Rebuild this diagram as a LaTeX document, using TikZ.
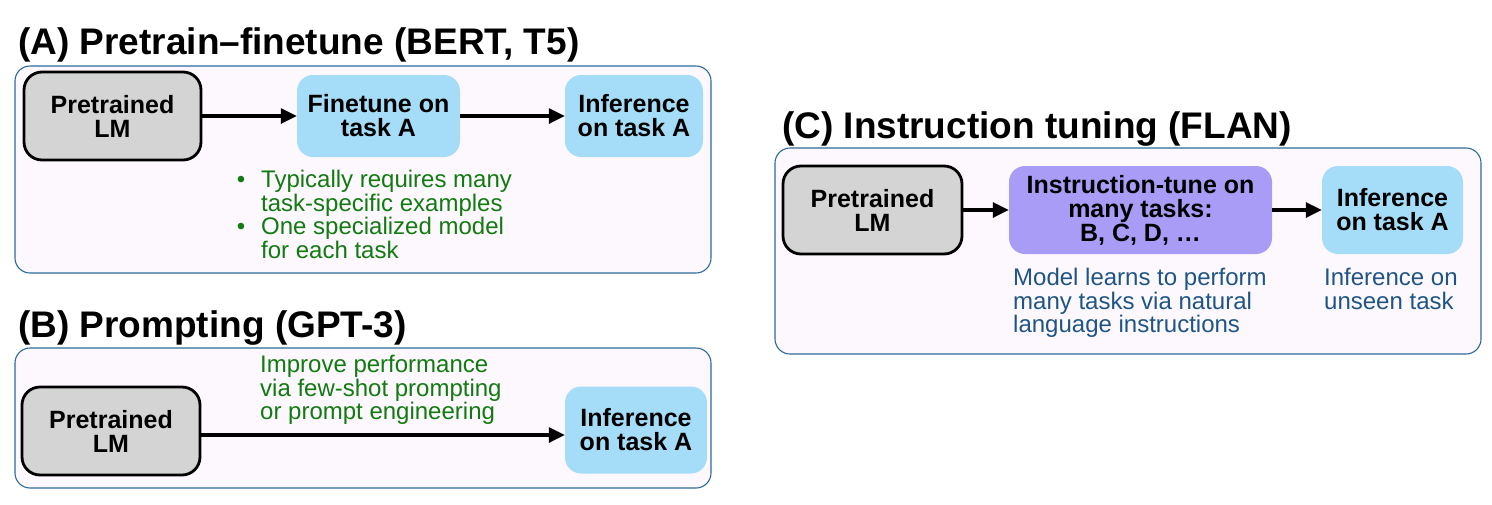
\documentclass[tikz,border=0pt]{standalone}
\usepackage{fontspec}
\setmainfont{Liberation Sans}
\newfontfamily\titlefont{Liberation Sans Bold}
\newfontfamily\boxfont{Liberation Sans Bold}
\usetikzlibrary{arrows.meta}
\definecolor{panelbg}{HTML}{FDF8FD}
\definecolor{panelline}{HTML}{2C6A99}
\definecolor{lmgray}{HTML}{D4D4D4}
\definecolor{taskblue}{HTML}{A5DDF9}
\definecolor{tunepurple}{HTML}{A99CF7}
\definecolor{notegreen}{HTML}{117A11}
\definecolor{noteblue}{HTML}{1F5585}
\begin{document}
\begin{tikzpicture}[x=1pt,y=-1pt,
  panel/.style={draw=panelline,line width=1.1pt,fill=panelbg,rounded corners=15pt},
  lmbox/.style={draw=black,line width=2.8pt,fill=lmgray,rounded corners=18pt,align=center,font=\boxfont\fontsize{25}{24}\selectfont,inner sep=0pt},
  taskbox/.style={fill=taskblue,rounded corners=16pt,align=center,font=\boxfont\fontsize{25}{24}\selectfont,inner sep=0pt},
  tunebox/.style={fill=tunepurple,rounded corners=16pt,align=center,font=\boxfont\fontsize{25}{24}\selectfont,inner sep=0pt},
  title/.style={anchor=base west,font=\titlefont\fontsize{37}{37}\selectfont,inner sep=0pt},
  note/.style={anchor=north west,align=left,inner sep=0pt,font=\fontsize{24}{23.5}\selectfont},
  dot/.style={inner sep=0pt,font=\fontsize{24}{24}\selectfont},
  flow/.style={line width=3.2pt,-{Triangle[length=16pt,width=15pt]}}
]
\useasboundingbox (0,0) rectangle (1492,504);
% ---------- (A)
\node[title] (tA) at (18,54) {(A) Pretrain–finetune (BERT, T5)};
\draw[panel] (15,66) rectangle (711,273);
\node[lmbox,minimum width=177pt,minimum height=88pt] (preA) at (112.5,116) {Pretrained\\LM};
\node[taskbox,minimum width=163pt,minimum height=82pt] (ftA) at (378.5,116) {Finetune on\\task A};
\node[taskbox,minimum width=138pt,minimum height=82pt] (infA) at (634,116) {Inference\\on task A};
\draw[flow] (preA.east) -- (ftA.west);
\draw[flow] (ftA.east) -- (infA.west);
\node[dot,text=notegreen] (bA1) at (241,182) {\textbullet};
\node[note,text=notegreen] (nA1) at (261,170) {Typically requires many\\task-specific examples};
\node[dot,text=notegreen] (bA2) at (241,229) {\textbullet};
\node[note,text=notegreen] (nA2) at (261,217) {One specialized model\\for each task};
% ---------- (B)
\node[title] (tB) at (18,337) {(B) Prompting (GPT-3)};
\draw[panel] (15,348) rectangle (711,488);
\node[lmbox,minimum width=178pt,minimum height=88pt] (preB) at (111,431) {Pretrained\\LM};
\node[taskbox,minimum width=142pt,minimum height=87pt] (infB) at (636,430) {Inference\\on task A};
\draw[flow] ([yshift=-4pt]preB.east) -- ([yshift=-5pt]infB.west);
\node[note,text=notegreen] (nB) at (260,355) {Improve performance\\via few-shot prompting\\or prompt engineering};
% ---------- (C)
\node[title] (tC) at (782,138) {(C) Instruction tuning (FLAN)};
\draw[panel] (775,148) rectangle (1481,354);
\node[lmbox,minimum width=179pt,minimum height=88pt] (preC) at (872.5,210) {Pretrained\\LM};
\node[tunebox,minimum width=263pt,minimum height=88pt] (tuneC) at (1140.5,210) {Instruction-tune on\\many tasks:\\B, C, D, \dots};
\node[taskbox,minimum width=141pt,minimum height=88pt] (infC) at (1392.5,210) {Inference\\on task A};
\draw[flow] (preC.east) -- (tuneC.west);
\draw[flow] (tuneC.east) -- (infC.west);
\node[note,text=noteblue] (nC1) at (1013,268) {Model learns to perform\\many tasks via natural\\language instructions};
\node[note,text=noteblue] (nC2) at (1324,268) {Inference on\\unseen task};
\end{tikzpicture}
\end{document}
